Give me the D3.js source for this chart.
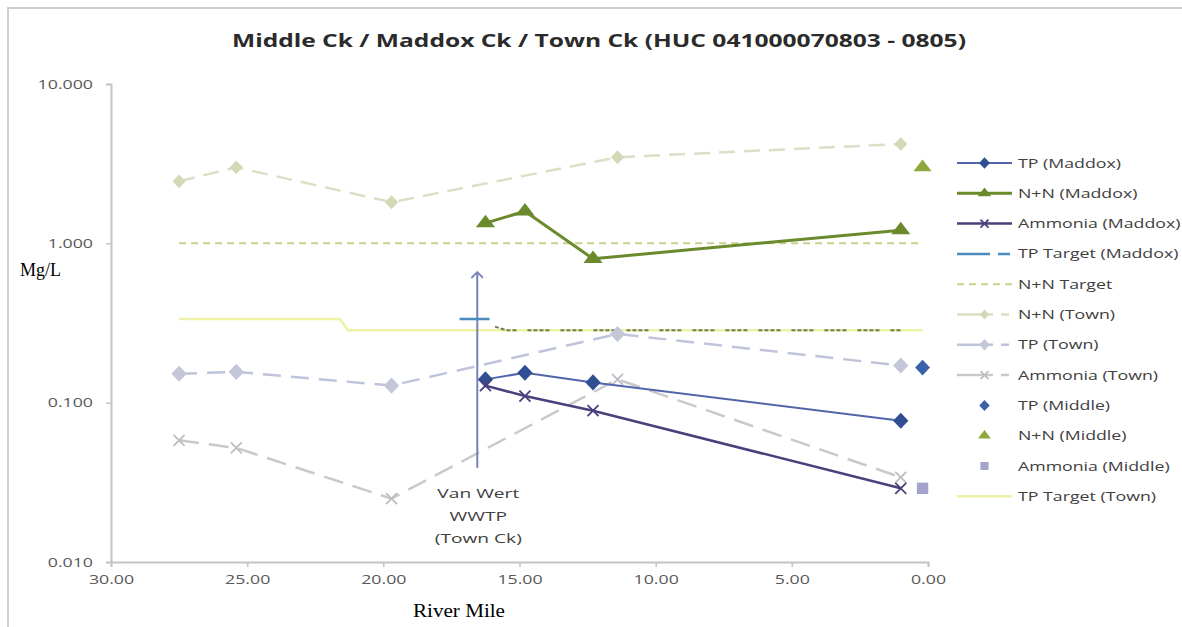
<!DOCTYPE html>
<html><head><meta charset="utf-8">
<script src="https://cdn.jsdelivr.net/npm/d3@7"></script>
<style>body{margin:0;background:#fff}</style></head>
<body>
<svg id="c" width="1182" height="627"></svg>
<script>
// ---------- data ----------
const title = "Middle Ck / Maddox Ck / Town Ck (HUC 041000070803 - 0805)";
const xLabel = "River Mile";
const yLabel = "Mg/L";
const xTicks = [30, 25, 20, 15, 10, 5, 0];
const yTicks = [0.01, 0.1, 1, 10];

const maddoxMiles = [16.25, 14.8, 12.3, 1.0];
const tpMaddox = [0.14, 0.154, 0.134, 0.077];
const nnMaddox = [1.34, 1.59, 0.80, 1.21];
const amMaddox = [0.128, 0.11, 0.089, 0.029];

const tpTargetMaddoxMiles = [17.2, 16.1];
const tpTargetMaddox = [0.335, 0.335];
const tpTargetMaddoxDownMiles = [15.9, 15.5, 1.0];
const tpTargetMaddoxDown = [0.30, 0.285, 0.285];

const nnTargetMiles = [27.5, 0.2];
const nnTarget = [1.0, 1.0];

const townMiles = [27.5, 25.4, 19.7, 11.4, 1.0];
const nnTown = [2.45, 3.0, 1.81, 3.47, 4.2];
const tpTown = [0.152, 0.156, 0.128, 0.27, 0.171];
const amTown = [0.058, 0.052, 0.025, 0.14, 0.034];

const middleMiles = [0.2];
const tpMiddle = [0.166];
const nnMiddle = [3.0];
const amMiddle = [0.029];

const tpTargetTownMiles = [27.5, 21.6, 21.3, 0.2];
const tpTargetTown = [0.335, 0.335, 0.285, 0.285];

const wwtpMile = [16.55, 16.55];
const wwtpRange = [0.039, 0.66];
const wwtpLabel = ["Van Wert", "WWTP", "(Town Ck)"];

const legendLabels = ["TP (Maddox)", "N+N (Maddox)", "Ammonia (Maddox)", "TP Target (Maddox)",
  "N+N Target", "N+N (Town)", "TP (Town)", "Ammonia (Town)", "TP (Middle)", "N+N (Middle)",
  "Ammonia (Middle)", "TP Target (Town)"];

// ---------- styles ----------
const S = {
  tpMaddox:   {stroke:"#5166aa", width:2, dash:null, marker:"diamond", mfill:"#2f4f92", msize:75},
  nnMaddox:   {stroke:"#6a8a2c", width:3, dash:null, marker:"triangle", mfill:"#6a8a2c", msize:110},
  amMaddox:   {stroke:"#4b3f7c", width:2.5, dash:null, marker:"x", mfill:"#4b3f7c", msize:11},
  tpTargetMaddox: {stroke:"#4a8cc0", width:2.5, dash:null},
  tpTargetMaddoxDown: {stroke:"#6f7d55", width:2, dash:"4,2,4,2,4,2,4,11"},
  nnTarget:   {stroke:"#c9d08c", width:2, dash:"7,5"},
  nnTown:     {stroke:"#dcdfc6", width:2.5, dash:"16,9", marker:"diamond", mfill:"#d3d8b6", msize:55},
  tpTown:     {stroke:"#bfc4da", width:2.5, dash:"18,10", marker:"diamond", mfill:"#c3c7d8", msize:75},
  amTown:     {stroke:"#c9c9cc", width:2.5, dash:"20,10", marker:"x", mfill:"#bdbdc2", msize:11},
  tpMiddle:   {marker:"diamond", mfill:"#3a62a8", msize:70},
  nnMiddle:   {marker:"triangle", mfill:"#8fa83c", msize:100},
  amMiddle:   {marker:"square", mfill:"#a3a3cc", msize:130},
  tpTargetTown: {stroke:"#eef2a6", width:2.5, dash:null}
};

// ---------- layout ----------
const svg = d3.select("#c");
const x = d3.scaleLinear().domain([30, 0]).range([111, 928]);
const y = d3.scaleLog().domain([0.01, 10]).range([562, 84]);
const FONT = "'Open Sans', sans-serif";
const SX = 1.42;

svg.append("rect").attr("x", 8).attr("y", 8).attr("width", 1200).attr("height", 700)
  .attr("fill", "#fff").attr("stroke", "#cfcfcf").attr("stroke-width", 2);

// title
svg.append("text").attr("x", 232).attr("y", 47).text(title)
  .attr("font-family", FONT).attr("font-weight", 700).attr("font-size", 18)
  .attr("fill", "#2b2b2b").attr("textLength", 734).attr("lengthAdjust", "spacingAndGlyphs");

// axes
const yAxis = svg.append("g").attr("transform", "translate(111,0)")
  .call(d3.axisLeft(y).tickValues(yTicks).tickFormat(d3.format(".3f")).tickSize(5).tickPadding(0));
const xAxis = svg.append("g").attr("transform", "translate(0,562)")
  .call(d3.axisBottom(x).tickValues(xTicks).tickFormat(d3.format(".2f")).tickSize(5).tickPadding(8));
[yAxis, xAxis].forEach(a => {
  a.select(".domain").attr("stroke", "#c4c4c4").attr("stroke-width", 2);
  a.selectAll(".tick line").attr("stroke", "#c4c4c4").attr("stroke-width", 1.5);
  a.selectAll(".tick text").attr("font-family", FONT).attr("font-size", 12.5).attr("fill", "#595959");
});
yAxis.selectAll(".tick text").attr("x", -18 / SX).attr("transform", `scale(${SX},1)`);
xAxis.selectAll(".tick text").attr("transform", `scale(${SX},1)`);

svg.append("text").attr("x", 20).attr("y", 276).text(yLabel)
  .attr("font-family", "'Liberation Serif', serif").attr("font-size", 18).attr("fill", "#000");
svg.append("text").attr("x", 413).attr("y", 617).text(xLabel)
  .attr("font-family", "'Liberation Serif', serif").attr("font-size", 18).attr("fill", "#000")
  .attr("textLength", 92).attr("lengthAdjust", "spacingAndGlyphs");

// markers
function marker(g, type, cx, cy, st) {
  if (type === "x") {
    const r = st.msize / 2;
    g.append("path").attr("d", `M${cx-r},${cy-r}L${cx+r},${cy+r}M${cx-r},${cy+r}L${cx+r},${cy-r}`)
      .attr("stroke", st.mfill).attr("stroke-width", 1.8).attr("fill", "none");
  } else {
    const sym = {diamond: d3.symbolDiamond, triangle: d3.symbolTriangle, square: d3.symbolSquare}[type];
    g.append("path").attr("d", d3.symbol().type(sym).size(st.msize)())
      .attr("transform", `translate(${cx},${cy})` + (type === "diamond" ? " scale(1.65,1)" : type === "triangle" ? " scale(1.2,0.9)" : ""))
      .attr("fill", st.mfill);
  }
}

function series(miles, vals, st) {
  const g = svg.append("g");
  const pts = miles.map((m, i) => [x(m), y(vals[i])]);
  if (st.stroke) {
    g.append("path").attr("d", d3.line()(pts)).attr("fill", "none")
      .attr("stroke", st.stroke).attr("stroke-width", st.width)
      .attr("stroke-dasharray", st.dash).attr("stroke-linejoin", "round");
  }
  if (st.marker) pts.forEach(p => marker(g, st.marker, p[0], p[1], st));
}

series(nnTargetMiles, nnTarget, S.nnTarget);
series(tpTargetTownMiles, tpTargetTown, S.tpTargetTown);
series(tpTargetMaddoxDownMiles, tpTargetMaddoxDown, S.tpTargetMaddoxDown);
series(townMiles, nnTown, S.nnTown);
series(townMiles, tpTown, S.tpTown);
series(townMiles, amTown, S.amTown);

// WWTP arrow
svg.append("defs").append("marker").attr("id", "arr").attr("viewBox", "0 0 12 12")
  .attr("refX", 6).attr("refY", 1).attr("markerWidth", 12).attr("markerHeight", 12)
  .attr("markerUnits", "userSpaceOnUse").attr("orient", "0")
  .append("path").attr("d", "M0,7L6,1L12,7").attr("fill", "none").attr("stroke", "#7584b4").attr("stroke-width", 1.8);
svg.append("line").attr("x1", x(wwtpMile[0])).attr("x2", x(wwtpMile[1]))
  .attr("y1", y(wwtpRange[0])).attr("y2", y(wwtpRange[1]))
  .attr("stroke", "#7584b4").attr("stroke-width", 2).attr("marker-end", "url(#arr)");

wwtpLabel.forEach((t, i) => {
  svg.append("text").attr("transform", `translate(${x(wwtpMile[0]) + 1},${498 + i * 22.5}) scale(${SX},1)`)
    .attr("text-anchor", "middle").text(t)
    .attr("font-family", FONT).attr("font-size", 13.5).attr("fill", "#404040");
});

series(tpTargetMaddoxMiles, tpTargetMaddox, S.tpTargetMaddox);
series(maddoxMiles, tpMaddox, S.tpMaddox);
series(maddoxMiles, amMaddox, S.amMaddox);
series(maddoxMiles, nnMaddox, S.nnMaddox);
series(middleMiles, tpMiddle, S.tpMiddle);
series(middleMiles, nnMiddle, S.nnMiddle);
series(middleMiles, amMiddle, S.amMiddle);

// legend
const legendStyles = [S.tpMaddox, S.nnMaddox, S.amMaddox, S.tpTargetMaddox, S.nnTarget, S.nnTown,
  S.tpTown, S.amTown, S.tpMiddle, S.nnMiddle, S.amMiddle, S.tpTargetTown];
const lg = svg.append("g");
legendLabels.forEach((lab, i) => {
  const ly = 163 + i * 30.3;
  const st = legendStyles[i];
  if (st.stroke) {
    let dash = st.dash;
    if (i === 3) dash = "33,8,12,20";
    if (i >= 5 && i <= 7) dash = "36,8,8,20";
    lg.append("line").attr("x1", 957).attr("x2", 1012).attr("y1", ly).attr("y2", ly)
      .attr("stroke", st.stroke).attr("stroke-width", st.width).attr("stroke-dasharray", dash);
  }
  if (st.marker) marker(lg, st.marker, 984.5, ly, Object.assign({}, st, {msize: st.marker === "x" ? 8 : st.msize * 0.5}));
  lg.append("text").attr("transform", `translate(1018,${ly + 4.5}) scale(${SX},1)`).text(lab)
    .attr("font-family", FONT).attr("font-size", 12.5).attr("fill", "#404040");
});
</script>
</body></html>
